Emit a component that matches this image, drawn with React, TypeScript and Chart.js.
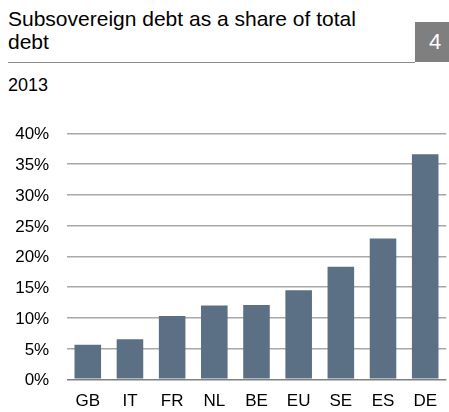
import React, { useEffect, useRef } from "react";
import { Chart, registerables } from "chart.js";

Chart.register(...registerables);

const categories = ["GB", "IT", "FR", "NL", "BE", "EU", "SE", "ES", "DE"];
const shareValues = [5.6, 6.5, 10.3, 12.0, 12.1, 14.5, 18.3, 22.9, 36.6];
const yTicks = [0, 5, 10, 15, 20, 25, 30, 35, 40];

const titleText = "Subsovereign debt as a share of total debt";
const chartNumber = "4";
const subtitleText = "2013";

const FONT = '"Liberation Sans", Arial, Helvetica, sans-serif';

export default function App() {
  const canvasRef = useRef<HTMLCanvasElement | null>(null);

  useEffect(() => {
    if (!canvasRef.current) return;
    const chart = new Chart(canvasRef.current, {
      type: "bar",
      data: {
        labels: categories,
        datasets: [
          {
            data: shareValues,
            backgroundColor: "#5b7085",
            borderWidth: 0,
            categoryPercentage: 1,
            barPercentage: 0.63,
          },
        ],
      },
      options: {
        responsive: false,
        animation: false,
        maintainAspectRatio: false,
        layout: { padding: { top: 133.3, left: 0, right: 0, bottom: 0 } },
        plugins: {
          legend: { display: false },
          tooltip: { enabled: false },
          title: { display: false },
        },
        scales: {
          x: {
            grid: { display: false, drawTicks: false },
            border: { display: false },
            ticks: {
              padding: 12,
              color: "#000",
              font: { family: FONT, size: 17 },
              maxRotation: 0,
              autoSkip: false,
            },
            afterFit: (scale: any) => {
              scale.height = 32.7;
            },
          },
          y: {
            min: 0,
            max: 40,
            afterBuildTicks: (scale: any) => {
              scale.ticks = yTicks.map((v) => ({ value: v }));
            },
            grid: {
              drawTicks: false,
              lineWidth: 1.5,
              color: (ctx: any) =>
                ctx.tick && ctx.tick.value === 0 ? "#808080" : "#a8a8a8",
            },
            border: { display: false },
            ticks: {
              padding: 17.5,
              labelOffset: 1.5,
              color: "#000",
              font: { family: FONT, size: 17 },
              callback: (v: any) => v + "%",
            },
            afterFit: (scale: any) => {
              scale.width = 66.7;
            },
          },
        },
      },
    });
    return () => chart.destroy();
  }, []);

  return (
    <div
      style={{
        position: "absolute",
        left: 0,
        top: 0,
        width: 449,
        height: 412,
        background: "#fff",
        overflow: "hidden",
        fontFamily: FONT,
      }}
    >
      <div
        style={{
          position: "absolute",
          left: 8,
          top: 7,
          width: 372,
          fontSize: 21,
          lineHeight: "23px",
          color: "#000",
        }}
      >
        {titleText}
      </div>
      <div
        style={{
          position: "absolute",
          left: 8,
          top: 62,
          width: 407,
          height: 0,
          borderTop: "1.5px solid #8c8c8c",
        }}
      />
      <div
        style={{
          position: "absolute",
          left: 415,
          top: 22,
          width: 34,
          height: 40,
          background: "#7f7f7f",
          color: "#fff",
          fontSize: 22,
          lineHeight: "40px",
          textAlign: "center",
          paddingLeft: 6,
          boxSizing: "border-box",
        }}
      >
        {chartNumber}
      </div>
      <div
        style={{
          position: "absolute",
          left: 8,
          top: 75,
          fontSize: 18,
          lineHeight: "20px",
          color: "#000",
        }}
      >
        {subtitleText}
      </div>
      <canvas
        ref={canvasRef}
        width={449}
        height={412}
        style={{ position: "absolute", left: 0, top: 0, width: 449, height: 412 }}
      />
    </div>
  );
}
